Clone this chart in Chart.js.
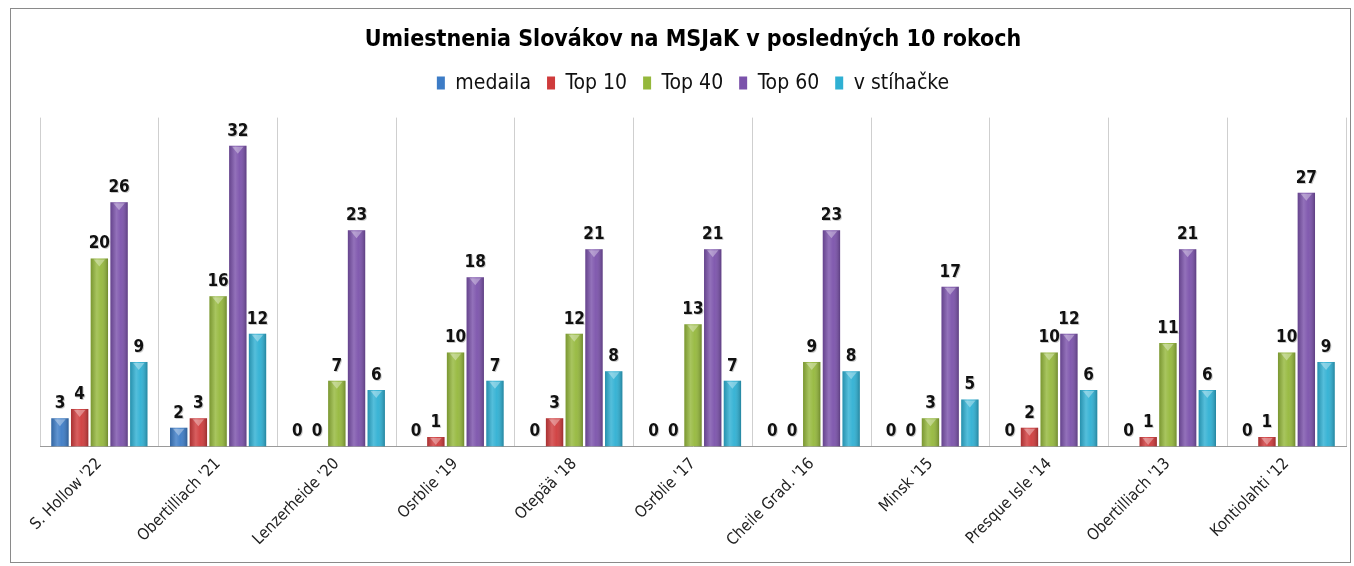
<!DOCTYPE html>
<html>
<head>
<meta charset="utf-8">
<script src="https://cdn.jsdelivr.net/npm/chart.js@4.4.1/dist/chart.umd.min.js"></script>
<style>
  body { margin: 0; background: #fff; }
  #wrap { position: relative; width: 1354px; height: 566px; }
  #frame { position: absolute; left: 10px; top: 8px; width: 1339px; height: 553px; border: 1px solid #8a8a8a; pointer-events: none; }
</style>
</head>
<body>
<div id="wrap">
  <canvas id="barChart" width="1354" height="566"></canvas>
  <div id="frame"></div>
</div>
<script>
const labels = ["S. Hollow '22", "Obertilliach '21", "Lenzerheide '20", "Osrblie '19", "Otepää '18", "Osrblie '17", "Cheile Grad. '16", "Minsk '15", "Presque Isle '14", "Obertilliach '13", "Kontiolahti '12"];
const medaila = [3, 2, 0, 0, 0, 0, 0, 0, 0, 0, 0];
const top10 = [4, 3, 0, 1, 3, 0, 0, 0, 2, 1, 1];
const top40 = [20, 16, 7, 10, 12, 13, 9, 3, 10, 11, 10];
const top60 = [26, 32, 23, 18, 21, 21, 23, 17, 12, 21, 27];
const stihacka = [9, 12, 6, 7, 8, 7, 8, 5, 6, 6, 9];

const fontFamily = "'DejaVu Sans Condensed', 'DejaVu Sans', sans-serif";

// extra room under the legend
const legendGap = {
  id: "legendGap",
  beforeInit(chart) {
    const fit = chart.legend.fit;
    chart.legend.fit = function () {
      fit.bind(chart.legend)();
      this.height += 14;
    };
  },
};

// shading over the bars + value labels
const barLabels = {
  id: "barLabels",
  afterDatasetsDraw(chart) {
    const ctx = chart.ctx;
    ctx.save();
    chart.data.datasets.forEach((ds, di) => {
      const meta = chart.getDatasetMeta(di);
      meta.data.forEach((bar, i) => {
        const w = bar.width;
        const left = bar.x - w / 2;
        const h = bar.base - bar.y;
        if (h > 0) {
          const g = ctx.createLinearGradient(left, 0, left + w, 0);
          g.addColorStop(0, "rgba(0,0,0,0.18)");
          g.addColorStop(0.35, "rgba(255,255,255,0.18)");
          g.addColorStop(0.6, "rgba(255,255,255,0.05)");
          g.addColorStop(1, "rgba(0,0,0,0.25)");
          ctx.fillStyle = g;
          ctx.fillRect(left, bar.y, w, h);
          // little bevel at the top
          ctx.fillStyle = "rgba(255,255,255,0.35)";
          ctx.beginPath();
          ctx.moveTo(left + 3, bar.y + 1);
          ctx.lineTo(left + w - 3, bar.y + 1);
          ctx.lineTo(bar.x, bar.y + Math.min(8, h));
          ctx.closePath();
          ctx.fill();
        }
        ctx.font = "bold 17px " + fontFamily;
        ctx.textAlign = "center";
        ctx.textBaseline = "bottom";
        ctx.fillStyle = "rgba(0,0,0,0.2)";
        ctx.fillText(ds.data[i], bar.x + 1, bar.y - 5);
        ctx.fillStyle = "#111";
        ctx.fillText(ds.data[i], bar.x, bar.y - 6);
      });
    });
    ctx.restore();
  },
};

const data = {
  labels: labels,
  datasets: [
    { label: "medaila", data: medaila, backgroundColor: "#3d7cc6" },
    { label: "Top 10", data: top10, backgroundColor: "#cf3b3c" },
    { label: "Top 40", data: top40, backgroundColor: "#95b83c" },
    { label: "Top 60", data: top60, backgroundColor: "#7b52ab" },
    { label: "v stíhačke", data: stihacka, backgroundColor: "#2fb0d3" },
  ],
};

const config = {
  type: "bar",
  data: data,
  options: {
    responsive: false,
    animation: false,
    datasets: {
      bar: { barPercentage: 0.88, categoryPercentage: 0.83, borderWidth: 0 },
    },
    layout: { padding: { left: 40, right: 8, top: 12, bottom: 8 } },
    plugins: {
      title: {
        display: true,
        text: "Umiestnenia Slovákov na MSJaK v posledných 10 rokoch",
        color: "#000",
        font: { family: fontFamily, size: 23, weight: "bold" },
        padding: { top: 14, bottom: 3 },
      },
      legend: {
        display: true,
        labels: {
          color: "#111",
          boxWidth: 8,
          boxHeight: 13,
          padding: 16,
          font: { family: fontFamily, size: 21 },
        },
      },
      tooltip: { enabled: false },
    },
    scales: {
      x: {
        grid: { display: true, offset: true, color: "#cfcfcf", drawTicks: false },
        border: { display: true, color: "#9a9a9a" },
        ticks: {
          color: "#222",
          minRotation: 45,
          maxRotation: 45,
          padding: 8,
          font: { family: fontFamily, size: 16 },
        },
      },
      y: {
        display: false,
        min: 0,
        max: 35,
      },
    },
  },
  plugins: [legendGap, barLabels],
};

const chart = new Chart(document.getElementById("barChart"), config);
</script>
</body>
</html>
